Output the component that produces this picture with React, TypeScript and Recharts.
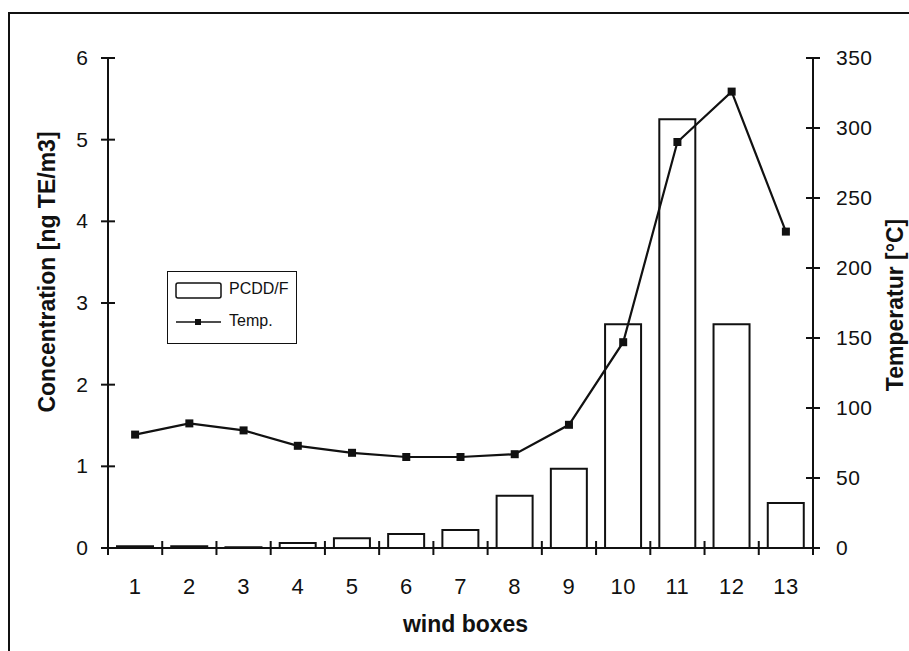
import { ComposedChart, Bar, Line, XAxis, YAxis, Legend } from 'recharts';

const windBoxes = ['1', '2', '3', '4', '5', '6', '7', '8', '9', '10', '11', '12', '13'];
const pcdd = [0.02, 0.02, 0.01, 0.06, 0.12, 0.17, 0.22, 0.64, 0.97, 2.74, 5.25, 2.74, 0.55];
const temp = [81, 89, 84, 73, 68, 65, 65, 67, 88, 147, 290, 326, 226];
const leftTicks = [0, 1, 2, 3, 4, 5, 6];
const rightTicks = [0, 50, 100, 150, 200, 250, 300, 350];

const W = 909;
const H = 651;
const M = { top: 58, right: 36, bottom: 43, left: 48 };
const Y_W = 60;
const X_H = 60;
const INK = '#111';
const FONT = '"Liberation Sans", Arial, sans-serif';
const BAND = (W - M.left - M.right - 2 * Y_W) / windBoxes.length;

const data = windBoxes.map((box, i) => ({ box, pcdd: pcdd[i], temp: temp[i] }));

function LeftTick(p: any) {
  const { x, y, payload } = p;
  return (
    <g>
      <line x1={x - 7} x2={x + 7} y1={y} y2={y} stroke={INK} strokeWidth={2} />
      <text x={x - 20} y={y + 7} textAnchor="end" fontSize={21} fill={INK} fontFamily={FONT}>
        {payload.value}
      </text>
    </g>
  );
}

function RightTick(p: any) {
  const { x, y, payload } = p;
  return (
    <g>
      <line x1={x - 7} x2={x + 7} y1={y} y2={y} stroke={INK} strokeWidth={2} />
      <text x={x + 23} y={y + 7} textAnchor="start" fontSize={21} letterSpacing={0.5} fill={INK} fontFamily={FONT}>
        {payload.value}
      </text>
    </g>
  );
}

function BottomTick(p: any) {
  const { x, y, payload, index } = p;
  const left = x - BAND / 2;
  const right = x + BAND / 2;
  return (
    <g>
      <line x1={left} x2={left} y1={y - 7} y2={y + 7} stroke={INK} strokeWidth={2} />
      {index === windBoxes.length - 1 && (
        <line x1={right} x2={right} y1={y - 7} y2={y + 7} stroke={INK} strokeWidth={2} />
      )}
      <text x={x} y={y + 46} textAnchor="middle" fontSize={22} letterSpacing={0.5} fill={INK} fontFamily={FONT}>
        {payload.value}
      </text>
    </g>
  );
}

function Square(p: any) {
  const { cx, cy, index } = p;
  return <rect key={index} x={cx - 4} y={cy - 4} width={8} height={8} fill={INK} />;
}

function LegendBox() {
  return (
    <div
      style={{
        position: 'relative',
        width: 130,
        height: 73,
        border: `1.5px solid ${INK}`,
        boxSizing: 'border-box',
        background: '#fff',
        fontFamily: FONT,
        fontSize: 16,
        color: INK,
      }}
    >
      <svg width={50} height={70} style={{ position: 'absolute', left: 6, top: 0 }}>
        <rect x={2} y={11} width={45} height={15} rx={2} fill="#fff" stroke={INK} strokeWidth={1.5} />
        <line x1={2} x2={47} y1={50} y2={50} stroke={INK} strokeWidth={1.5} />
        <rect x={21} y={47} width={6} height={6} fill={INK} />
      </svg>
      <span style={{ position: 'absolute', left: 61, top: 8 }}>PCDD/F</span>
      <span style={{ position: 'absolute', left: 61, top: 40 }}>Temp.</span>
    </div>
  );
}

export default function App() {
  return (
    <div style={{ position: 'absolute', left: 0, top: 0, width: W, height: H, background: '#fff', overflow: 'hidden' }}>
      <div
        style={{
          position: 'absolute',
          left: 8,
          top: 12,
          width: 950,
          height: 700,
          borderTop: `2px solid ${INK}`,
          borderLeft: `2px solid ${INK}`,
        }}
      />
      <div style={{ position: 'absolute', left: 0, top: 0 }}>
        <ComposedChart width={W} height={H} data={data} margin={M}>
          <XAxis
            dataKey="box"
            height={X_H}
            axisLine={{ stroke: INK, strokeWidth: 2 }}
            tickLine={false}
            tickSize={0}
            tickMargin={0}
            interval={0}
            tick={BottomTick}
            label={{
              content: (props: any) => {
                const vb = props.viewBox;
                return (
                  <text
                    x={vb.x + vb.width / 2 + 5}
                    y={632}
                    textAnchor="middle"
                    fontSize={23}
                    fontWeight="bold"
                    fill={INK}
                    fontFamily={FONT}
                  >
                    wind boxes
                  </text>
                );
              },
            }}
          />
          <YAxis
            yAxisId="left"
            orientation="left"
            width={Y_W}
            domain={[0, 6]}
            ticks={leftTicks}
            axisLine={{ stroke: INK, strokeWidth: 2 }}
            tickLine={false}
            tickSize={0}
            tickMargin={0}
            tick={LeftTick}
            label={{
              content: () => (
                <text
                  x={55}
                  y={272}
                  transform="rotate(-90 55 272)"
                  textAnchor="middle"
                  fontSize={23}
                  fontWeight="bold"
                  fill={INK}
                  fontFamily={FONT}
                >
                  Concentration [ng TE/m3]
                </text>
              ),
            }}
          />
          <YAxis
            yAxisId="right"
            orientation="right"
            width={Y_W}
            domain={[0, 350]}
            ticks={rightTicks}
            axisLine={{ stroke: INK, strokeWidth: 2 }}
            tickLine={false}
            tickSize={0}
            tickMargin={0}
            tick={RightTick}
            label={{
              content: () => (
                <text
                  x={903}
                  y={305}
                  transform="rotate(-90 903 305)"
                  textAnchor="middle"
                  fontSize={23}
                  fontWeight="bold"
                  fill={INK}
                  fontFamily={FONT}
                >
                  Temperatur [°C]
                </text>
              ),
            }}
          />
          <Legend
            layout="horizontal"
            verticalAlign="middle"
            align="center"
            wrapperStyle={{ left: 167, top: 271, width: 130, height: 73 }}
            content={LegendBox}
          />
          <Bar
            yAxisId="left"
            dataKey="pcdd"
            name="PCDD/F"
            barSize={36}
            fill="#fff"
            stroke={INK}
            strokeWidth={2}
            isAnimationActive={false}
          />
          <Line
            yAxisId="right"
            dataKey="temp"
            name="Temp."
            type="linear"
            stroke={INK}
            strokeWidth={2.2}
            dot={Square}
            activeDot={false}
            isAnimationActive={false}
          />
        </ComposedChart>
      </div>
    </div>
  );
}
